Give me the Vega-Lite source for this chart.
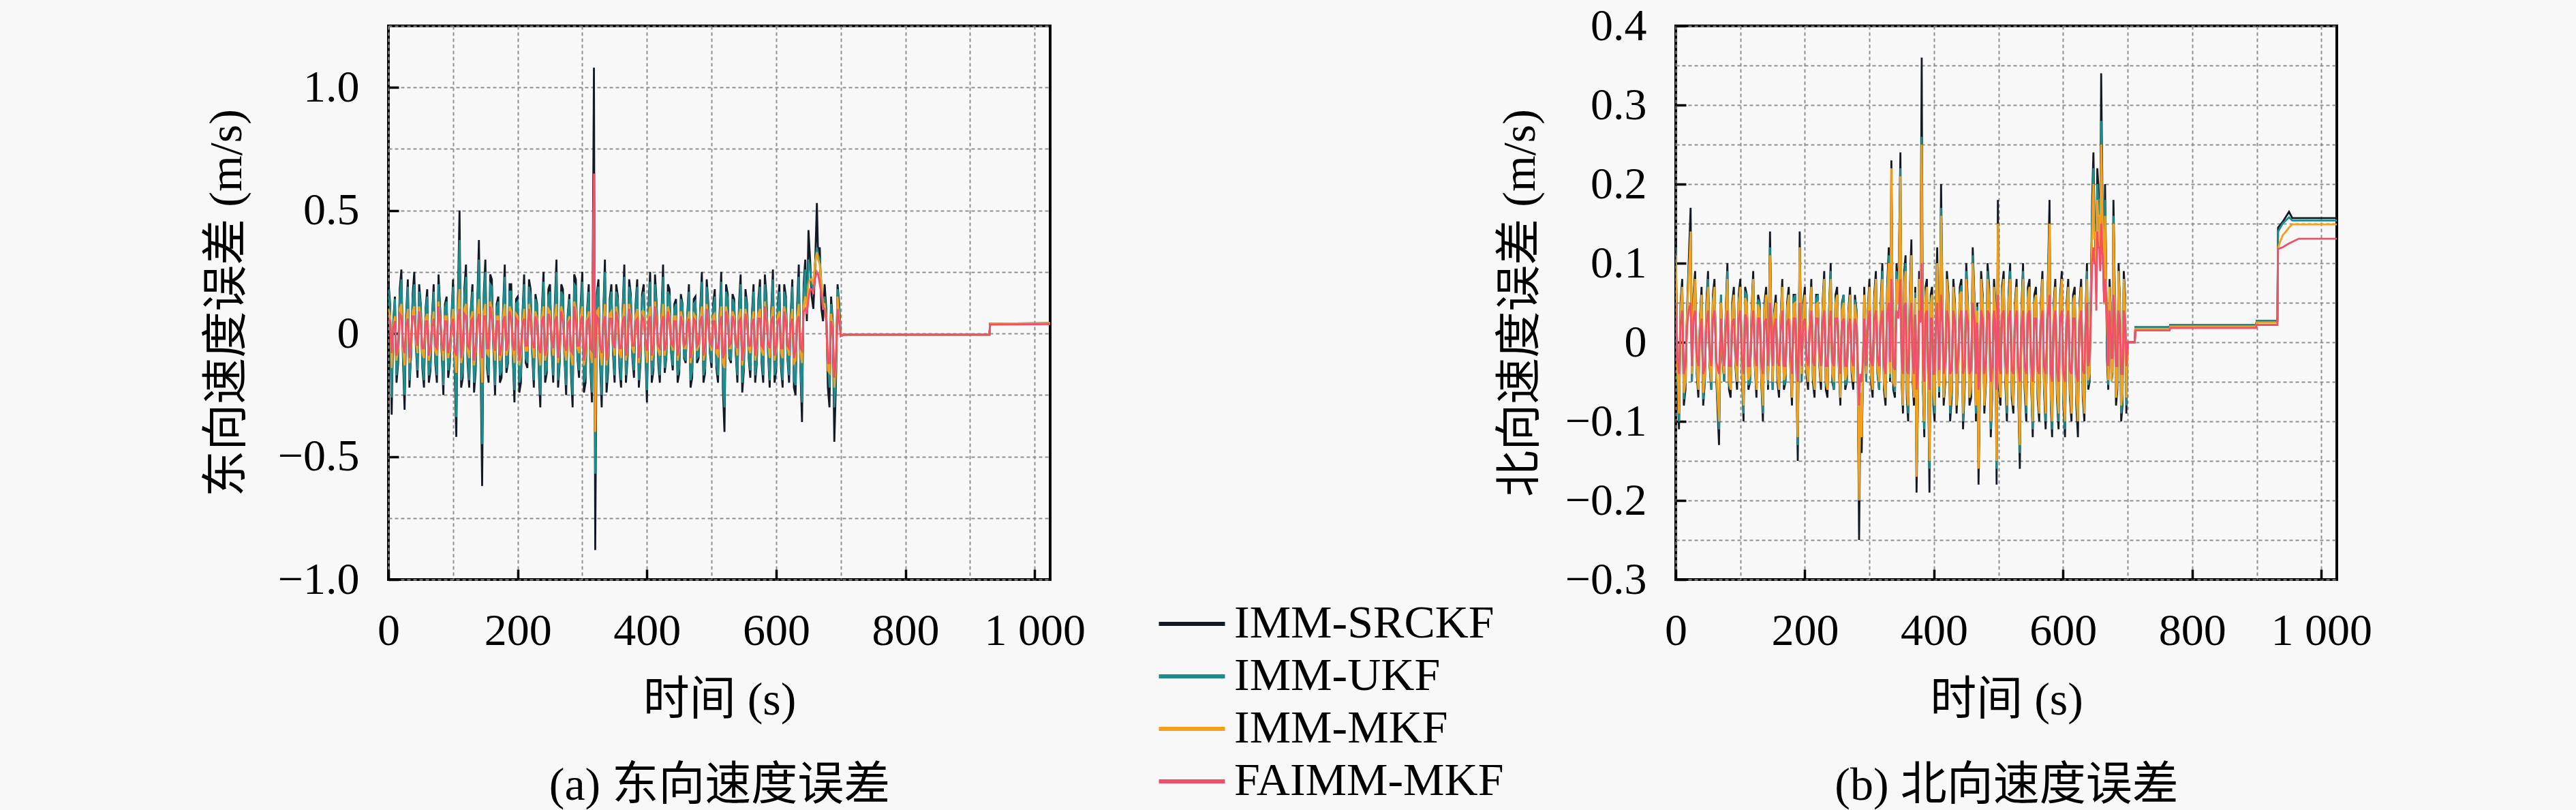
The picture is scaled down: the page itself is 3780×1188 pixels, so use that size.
{
  "$schema": "https://vega.github.io/schema/vega-lite/v6.json",
  "background": "#f8f8f8",
  "padding": {"left": 297, "top": 3, "right": 297, "bottom": 0},
  "config": {
    "font": "Liberation Serif, Noto Sans CJK SC",
    "view": {"stroke": "black", "strokeWidth": 4},
    "axis": {
      "domain": false,
      "grid": true,
      "gridColor": "#8f8f8f",
      "gridDash": [5, 4],
      "gridWidth": 2,
      "tickColor": "black",
      "tickWidth": 3.5,
      "tickSize": -15,
      "labelPadding": 58,
      "labelFont": "Liberation Serif",
      "labelFontSize": 66,
      "labelColor": "black",
      "labelFlush": false,
      "labelOverlap": false,
      "labelBound": false,
      "titleFont": "Liberation Serif, Noto Sans CJK SC",
      "titleFontSize": 68,
      "titleFontWeight": "normal",
      "titleColor": "black",
      "titlePadding": 35
    }
  },
  "datasets": {
    "east": [
      {"t":0,"a":0.21,"b":0.18,"c":0.1,"d":0.06},
      {"t":5,"a":-0.33,"b":-0.26,"c":-0.14,"d":-0.08},
      {"t":10,"a":0.15,"b":0.14,"c":0.07,"d":0.05},
      {"t":15,"a":-0.12,"b":-0.1,"c":-0.06,"d":-0.04},
      {"t":20,"a":0.26,"b":0.22,"c":0.12,"d":0.07},
      {"t":25,"a":-0.31,"b":-0.25,"c":-0.13,"d":-0.08},
      {"t":30,"a":0.22,"b":0.19,"c":0.1,"d":0.06},
      {"t":35,"a":-0.08,"b":-0.09,"c":-0.05,"d":-0.03},
      {"t":40,"a":0.25,"b":0.2,"c":0.11,"d":0.07},
      {"t":45,"a":-0.18,"b":-0.15,"c":-0.08,"d":-0.05},
      {"t":50,"a":0.12,"b":0.11,"c":0.06,"d":0.04},
      {"t":55,"a":-0.22,"b":-0.19,"c":-0.1,"d":-0.06},
      {"t":60,"a":0.18,"b":0.15,"c":0.08,"d":0.05},
      {"t":65,"a":-0.15,"b":-0.13,"c":-0.07,"d":-0.05},
      {"t":70,"a":0.2,"b":0.17,"c":0.09,"d":0.06},
      {"t":75,"a":-0.2,"b":-0.17,"c":-0.09,"d":-0.06},
      {"t":80,"a":0.1,"b":0.1,"c":0.05,"d":0.04},
      {"t":85,"a":-0.25,"b":-0.21,"c":-0.11,"d":-0.07},
      {"t":90,"a":0.15,"b":0.13,"c":0.07,"d":0.05},
      {"t":95,"a":-0.12,"b":-0.11,"c":-0.06,"d":-0.04},
      {"t":100,"a":0.22,"b":0.19,"c":0.1,"d":0.06},
      {"t":105,"a":-0.42,"b":-0.34,"c":-0.16,"d":-0.09},
      {"t":110,"a":0.5,"b":0.38,"c":0.18,"d":0.1},
      {"t":115,"a":-0.18,"b":-0.15,"c":-0.08,"d":-0.05},
      {"t":120,"a":0.28,"b":0.23,"c":0.12,"d":0.07},
      {"t":125,"a":-0.22,"b":-0.19,"c":-0.1,"d":-0.06},
      {"t":130,"a":0.2,"b":0.17,"c":0.09,"d":0.06},
      {"t":135,"a":-0.15,"b":-0.13,"c":-0.07,"d":-0.05},
      {"t":140,"a":0.38,"b":0.3,"c":0.14,"d":0.08},
      {"t":145,"a":-0.62,"b":-0.45,"c":-0.2,"d":-0.1},
      {"t":150,"a":0.3,"b":0.25,"c":0.12,"d":0.07},
      {"t":155,"a":-0.2,"b":-0.17,"c":-0.09,"d":-0.06},
      {"t":160,"a":0.22,"b":0.19,"c":0.1,"d":0.06},
      {"t":165,"a":-0.25,"b":-0.21,"c":-0.11,"d":-0.07},
      {"t":170,"a":0.15,"b":0.13,"c":0.07,"d":0.05},
      {"t":175,"a":-0.18,"b":-0.15,"c":-0.08,"d":-0.05},
      {"t":180,"a":0.28,"b":0.23,"c":0.12,"d":0.07},
      {"t":185,"a":-0.12,"b":-0.11,"c":-0.06,"d":-0.04},
      {"t":190,"a":0.2,"b":0.17,"c":0.09,"d":0.06},
      {"t":195,"a":-0.28,"b":-0.23,"c":-0.12,"d":-0.07},
      {"t":200,"a":0.15,"b":0.13,"c":0.07,"d":0.05},
      {"t":205,"a":-0.2,"b":-0.17,"c":-0.09,"d":-0.06},
      {"t":210,"a":0.24,"b":0.2,"c":0.1,"d":0.06},
      {"t":215,"a":-0.14,"b":-0.12,"c":-0.07,"d":-0.05},
      {"t":220,"a":0.18,"b":0.15,"c":0.08,"d":0.05},
      {"t":225,"a":-0.22,"b":-0.19,"c":-0.1,"d":-0.06},
      {"t":230,"a":0.12,"b":0.11,"c":0.06,"d":0.04},
      {"t":235,"a":-0.3,"b":-0.25,"c":-0.13,"d":-0.08},
      {"t":240,"a":0.25,"b":0.21,"c":0.11,"d":0.07},
      {"t":245,"a":-0.16,"b":-0.14,"c":-0.07,"d":-0.05},
      {"t":250,"a":0.2,"b":0.17,"c":0.09,"d":0.06},
      {"t":255,"a":-0.2,"b":-0.17,"c":-0.09,"d":-0.06},
      {"t":260,"a":0.3,"b":0.25,"c":0.12,"d":0.07},
      {"t":265,"a":-0.12,"b":-0.11,"c":-0.06,"d":-0.04},
      {"t":270,"a":0.18,"b":0.15,"c":0.08,"d":0.05},
      {"t":275,"a":-0.25,"b":-0.21,"c":-0.11,"d":-0.07},
      {"t":280,"a":0.16,"b":0.14,"c":0.07,"d":0.05},
      {"t":285,"a":-0.3,"b":-0.25,"c":-0.13,"d":-0.08},
      {"t":290,"a":0.22,"b":0.19,"c":0.1,"d":0.06},
      {"t":295,"a":-0.18,"b":-0.15,"c":-0.08,"d":-0.05},
      {"t":300,"a":0.25,"b":0.21,"c":0.11,"d":0.07},
      {"t":305,"a":-0.2,"b":-0.17,"c":-0.09,"d":-0.06},
      {"t":310,"a":0.2,"b":0.17,"c":0.09,"d":0.06},
      {"t":315,"a":-0.28,"b":-0.24,"c":-0.12,"d":-0.07},
      {"t":318,"a":1.08,"b":0.62,"c":0.55,"d":0.65},
      {"t":320,"a":-0.88,"b":-0.57,"c":-0.4,"d":-0.1},
      {"t":325,"a":0.22,"b":0.19,"c":0.1,"d":0.06},
      {"t":330,"a":-0.3,"b":-0.25,"c":-0.13,"d":-0.08},
      {"t":335,"a":0.3,"b":0.25,"c":0.12,"d":0.07},
      {"t":340,"a":-0.15,"b":-0.13,"c":-0.07,"d":-0.05},
      {"t":345,"a":0.2,"b":0.17,"c":0.09,"d":0.06},
      {"t":350,"a":-0.2,"b":-0.17,"c":-0.09,"d":-0.06},
      {"t":355,"a":0.15,"b":0.13,"c":0.07,"d":0.05},
      {"t":360,"a":-0.22,"b":-0.19,"c":-0.1,"d":-0.06},
      {"t":365,"a":0.28,"b":0.23,"c":0.12,"d":0.07},
      {"t":370,"a":-0.1,"b":-0.09,"c":-0.05,"d":-0.04},
      {"t":375,"a":0.16,"b":0.14,"c":0.07,"d":0.05},
      {"t":380,"a":-0.18,"b":-0.15,"c":-0.08,"d":-0.05},
      {"t":385,"a":0.22,"b":0.19,"c":0.1,"d":0.06},
      {"t":390,"a":-0.12,"b":-0.11,"c":-0.06,"d":-0.04},
      {"t":395,"a":0.2,"b":0.17,"c":0.09,"d":0.06},
      {"t":400,"a":-0.28,"b":-0.23,"c":-0.12,"d":-0.07},
      {"t":405,"a":0.25,"b":0.21,"c":0.11,"d":0.07},
      {"t":410,"a":-0.15,"b":-0.13,"c":-0.07,"d":-0.05},
      {"t":415,"a":0.12,"b":0.11,"c":0.06,"d":0.04},
      {"t":420,"a":-0.2,"b":-0.17,"c":-0.09,"d":-0.06},
      {"t":425,"a":0.28,"b":0.23,"c":0.12,"d":0.07},
      {"t":430,"a":-0.1,"b":-0.09,"c":-0.05,"d":-0.04},
      {"t":435,"a":0.18,"b":0.15,"c":0.08,"d":0.05},
      {"t":440,"a":-0.15,"b":-0.13,"c":-0.07,"d":-0.05},
      {"t":445,"a":0.14,"b":0.12,"c":0.07,"d":0.05},
      {"t":450,"a":-0.16,"b":-0.14,"c":-0.07,"d":-0.05},
      {"t":455,"a":0.12,"b":0.11,"c":0.06,"d":0.04},
      {"t":460,"a":-0.12,"b":-0.11,"c":-0.06,"d":-0.04},
      {"t":465,"a":0.2,"b":0.17,"c":0.09,"d":0.06},
      {"t":470,"a":-0.18,"b":-0.15,"c":-0.08,"d":-0.05},
      {"t":475,"a":0.15,"b":0.13,"c":0.07,"d":0.05},
      {"t":480,"a":-0.1,"b":-0.09,"c":-0.05,"d":-0.04},
      {"t":485,"a":0.25,"b":0.21,"c":0.11,"d":0.07},
      {"t":490,"a":-0.16,"b":-0.14,"c":-0.07,"d":-0.05},
      {"t":495,"a":0.12,"b":0.11,"c":0.06,"d":0.04},
      {"t":500,"a":-0.14,"b":-0.12,"c":-0.07,"d":-0.05},
      {"t":505,"a":0.18,"b":0.15,"c":0.08,"d":0.05},
      {"t":510,"a":-0.2,"b":-0.17,"c":-0.09,"d":-0.06},
      {"t":515,"a":0.25,"b":0.21,"c":0.11,"d":0.07},
      {"t":520,"a":-0.4,"b":-0.3,"c":-0.14,"d":-0.08},
      {"t":525,"a":0.16,"b":0.14,"c":0.07,"d":0.05},
      {"t":530,"a":-0.12,"b":-0.11,"c":-0.06,"d":-0.04},
      {"t":535,"a":0.14,"b":0.12,"c":0.07,"d":0.05},
      {"t":540,"a":-0.2,"b":-0.17,"c":-0.09,"d":-0.06},
      {"t":545,"a":0.24,"b":0.2,"c":0.1,"d":0.06},
      {"t":550,"a":-0.15,"b":-0.13,"c":-0.07,"d":-0.05},
      {"t":555,"a":0.12,"b":0.11,"c":0.06,"d":0.04},
      {"t":560,"a":-0.18,"b":-0.15,"c":-0.08,"d":-0.05},
      {"t":565,"a":0.2,"b":0.17,"c":0.09,"d":0.06},
      {"t":570,"a":-0.12,"b":-0.11,"c":-0.06,"d":-0.04},
      {"t":575,"a":0.22,"b":0.19,"c":0.1,"d":0.06},
      {"t":580,"a":-0.2,"b":-0.17,"c":-0.09,"d":-0.06},
      {"t":585,"a":0.15,"b":0.13,"c":0.07,"d":0.05},
      {"t":590,"a":-0.22,"b":-0.19,"c":-0.1,"d":-0.06},
      {"t":595,"a":0.26,"b":0.22,"c":0.11,"d":0.07},
      {"t":600,"a":-0.15,"b":-0.13,"c":-0.07,"d":-0.05},
      {"t":605,"a":0.2,"b":0.17,"c":0.09,"d":0.06},
      {"t":610,"a":-0.22,"b":-0.19,"c":-0.1,"d":-0.06},
      {"t":615,"a":0.15,"b":0.13,"c":0.07,"d":0.05},
      {"t":620,"a":-0.2,"b":-0.17,"c":-0.09,"d":-0.06},
      {"t":625,"a":0.22,"b":0.19,"c":0.1,"d":0.06},
      {"t":630,"a":-0.25,"b":-0.21,"c":-0.11,"d":-0.07},
      {"t":635,"a":0.28,"b":0.23,"c":0.12,"d":0.07},
      {"t":640,"a":-0.36,"b":-0.28,"c":-0.12,"d":-0.07},
      {"t":645,"a":0.3,"b":0.26,"c":0.15,"d":0.1},
      {"t":650,"a":0.42,"b":0.3,"c":0.2,"d":0.14},
      {"t":655,"a":0.15,"b":0.2,"c":0.22,"d":0.18},
      {"t":660,"a":0.25,"b":0.28,"c":0.28,"d":0.22},
      {"t":663,"a":0.53,"b":0.35,"c":0.33,"d":0.25},
      {"t":665,"a":0.3,"b":0.32,"c":0.3,"d":0.24},
      {"t":670,"a":0.1,"b":0.2,"c":0.2,"d":0.16},
      {"t":675,"a":0.2,"b":0.15,"c":0.12,"d":0.1},
      {"t":680,"a":-0.22,"b":-0.12,"c":-0.15,"d":-0.12},
      {"t":685,"a":0.15,"b":0.12,"c":0.08,"d":0.05},
      {"t":690,"a":-0.44,"b":-0.3,"c":-0.22,"d":-0.18},
      {"t":695,"a":0.2,"b":0.18,"c":0.15,"d":0.1},
      {"t":700,"a":-0.01,"b":-0.01,"c":-0.01,"d":-0.01},
      {"t":705,"a":-0.005,"b":-0.005,"c":-0.005,"d":-0.005},
      {"t":930,"a":-0.005,"b":-0.005,"c":-0.005,"d":-0.005},
      {"t":931,"a":0.04,"b":0.04,"c":0.04,"d":0.036},
      {"t":1024,"a":0.042,"b":0.042,"c":0.042,"d":0.038},
      {"t":2.5,"a":0.12,"b":0.1,"c":0.07,"d":0.05},
      {"t":7.5,"a":0.05,"b":0.04,"c":0.03,"d":0.02},
      {"t":12.5,"a":-0.2,"b":-0.17,"c":-0.11,"d":-0.09},
      {"t":17.5,"a":0.18,"b":0.15,"c":0.1,"d":0.08},
      {"t":22.5,"a":-0.1,"b":-0.09,"c":-0.06,"d":-0.05},
      {"t":27.5,"a":0.08,"b":0.07,"c":0.04,"d":0.04},
      {"t":32.5,"a":-0.22,"b":-0.19,"c":-0.12,"d":-0.1},
      {"t":37.5,"a":0.16,"b":0.14,"c":0.09,"d":0.07},
      {"t":42.5,"a":-0.05,"b":-0.04,"c":-0.03,"d":-0.02},
      {"t":47.5,"a":0.2,"b":0.17,"c":0.11,"d":0.09},
      {"t":52.5,"a":-0.14,"b":-0.12,"c":-0.08,"d":-0.06},
      {"t":57.5,"a":0.1,"b":0.09,"c":0.06,"d":0.05},
      {"t":62.5,"a":-0.2,"b":-0.17,"c":-0.11,"d":-0.09},
      {"t":67.5,"a":0.07,"b":0.06,"c":0.04,"d":0.03},
      {"t":72.5,"a":-0.12,"b":-0.1,"c":-0.07,"d":-0.05},
      {"t":77.5,"a":0.24,"b":0.2,"c":0.13,"d":0.11},
      {"t":82.5,"a":-0.08,"b":-0.07,"c":-0.04,"d":-0.04},
      {"t":87.5,"a":0.12,"b":0.1,"c":0.07,"d":0.05},
      {"t":92.5,"a":-0.18,"b":-0.15,"c":-0.1,"d":-0.08},
      {"t":97.5,"a":0.06,"b":0.05,"c":0.03,"d":0.03},
      {"t":102.5,"a":-0.15,"b":-0.13,"c":-0.08,"d":-0.07},
      {"t":107.5,"a":0.14,"b":0.12,"c":0.08,"d":0.06},
      {"t":112.5,"a":-0.22,"b":-0.19,"c":-0.12,"d":-0.1},
      {"t":117.5,"a":0.18,"b":0.15,"c":0.1,"d":0.08},
      {"t":122.5,"a":-0.12,"b":-0.1,"c":-0.07,"d":-0.05},
      {"t":127.5,"a":0.1,"b":0.09,"c":0.06,"d":0.05},
      {"t":132.5,"a":-0.24,"b":-0.2,"c":-0.13,"d":-0.11},
      {"t":137.5,"a":0.12,"b":0.1,"c":0.07,"d":0.05},
      {"t":142.5,"a":-0.1,"b":-0.09,"c":-0.06,"d":-0.05},
      {"t":147.5,"a":0.16,"b":0.14,"c":0.09,"d":0.07},
      {"t":152.5,"a":-0.14,"b":-0.12,"c":-0.08,"d":-0.06},
      {"t":157.5,"a":0.24,"b":0.2,"c":0.13,"d":0.11},
      {"t":162.5,"a":-0.06,"b":-0.05,"c":-0.03,"d":-0.03},
      {"t":167.5,"a":0.12,"b":0.1,"c":0.07,"d":0.05},
      {"t":172.5,"a":-0.2,"b":-0.17,"c":-0.11,"d":-0.09},
      {"t":177.5,"a":0.1,"b":0.09,"c":0.06,"d":0.05},
      {"t":182.5,"a":-0.16,"b":-0.14,"c":-0.09,"d":-0.07},
      {"t":187.5,"a":0.2,"b":0.17,"c":0.11,"d":0.09},
      {"t":192.5,"a":-0.1,"b":-0.09,"c":-0.06,"d":-0.05},
      {"t":197.5,"a":0.14,"b":0.12,"c":0.08,"d":0.06},
      {"t":202.5,"a":-0.24,"b":-0.2,"c":-0.13,"d":-0.11},
      {"t":207.5,"a":0.08,"b":0.07,"c":0.04,"d":0.04},
      {"t":212.5,"a":-0.12,"b":-0.1,"c":-0.07,"d":-0.05},
      {"t":217.5,"a":0.22,"b":0.19,"c":0.12,"d":0.1},
      {"t":222.5,"a":-0.08,"b":-0.07,"c":-0.04,"d":-0.04},
      {"t":227.5,"a":0.16,"b":0.14,"c":0.09,"d":0.07},
      {"t":232.5,"a":-0.14,"b":-0.12,"c":-0.08,"d":-0.06},
      {"t":237.5,"a":0.1,"b":0.09,"c":0.06,"d":0.05},
      {"t":242.5,"a":-0.2,"b":-0.17,"c":-0.11,"d":-0.09},
      {"t":247.5,"a":0.18,"b":0.15,"c":0.1,"d":0.08},
      {"t":252.5,"a":-0.06,"b":-0.05,"c":-0.03,"d":-0.03},
      {"t":257.5,"a":0.12,"b":0.1,"c":0.07,"d":0.05},
      {"t":262.5,"a":-0.22,"b":-0.19,"c":-0.12,"d":-0.1},
      {"t":267.5,"a":0.2,"b":0.17,"c":0.11,"d":0.09},
      {"t":272.5,"a":-0.1,"b":-0.09,"c":-0.06,"d":-0.05},
      {"t":277.5,"a":0.08,"b":0.07,"c":0.04,"d":0.04},
      {"t":282.5,"a":-0.16,"b":-0.14,"c":-0.09,"d":-0.07},
      {"t":287.5,"a":0.24,"b":0.2,"c":0.13,"d":0.11},
      {"t":292.5,"a":-0.1,"b":-0.09,"c":-0.06,"d":-0.05},
      {"t":297.5,"a":0.12,"b":0.1,"c":0.07,"d":0.05},
      {"t":302.5,"a":-0.24,"b":-0.2,"c":-0.13,"d":-0.11},
      {"t":307.5,"a":0.1,"b":0.09,"c":0.06,"d":0.05},
      {"t":312.5,"a":-0.14,"b":-0.12,"c":-0.08,"d":-0.06},
      {"t":322.5,"a":0.16,"b":0.14,"c":0.09,"d":0.07},
      {"t":327.5,"a":-0.12,"b":-0.1,"c":-0.07,"d":-0.05},
      {"t":332.5,"a":0.08,"b":0.07,"c":0.04,"d":0.04},
      {"t":337.5,"a":-0.24,"b":-0.2,"c":-0.13,"d":-0.11},
      {"t":342.5,"a":0.14,"b":0.12,"c":0.08,"d":0.06},
      {"t":347.5,"a":-0.08,"b":-0.07,"c":-0.04,"d":-0.04},
      {"t":352.5,"a":0.2,"b":0.17,"c":0.11,"d":0.09},
      {"t":357.5,"a":-0.14,"b":-0.12,"c":-0.08,"d":-0.06},
      {"t":362.5,"a":0.1,"b":0.09,"c":0.06,"d":0.05},
      {"t":367.5,"a":-0.2,"b":-0.17,"c":-0.11,"d":-0.09},
      {"t":372.5,"a":0.22,"b":0.19,"c":0.12,"d":0.1},
      {"t":377.5,"a":-0.1,"b":-0.09,"c":-0.06,"d":-0.05},
      {"t":382.5,"a":0.12,"b":0.1,"c":0.07,"d":0.05},
      {"t":387.5,"a":-0.22,"b":-0.19,"c":-0.12,"d":-0.1},
      {"t":392.5,"a":0.16,"b":0.14,"c":0.09,"d":0.07},
      {"t":397.5,"a":-0.06,"b":-0.05,"c":-0.03,"d":-0.03},
      {"t":402.5,"a":0.12,"b":0.1,"c":0.07,"d":0.05},
      {"t":407.5,"a":-0.2,"b":-0.17,"c":-0.11,"d":-0.09},
      {"t":412.5,"a":0.24,"b":0.2,"c":0.13,"d":0.11},
      {"t":417.5,"a":-0.12,"b":-0.1,"c":-0.07,"d":-0.05},
      {"t":422.5,"a":0.08,"b":0.07,"c":0.04,"d":0.04},
      {"t":427.5,"a":-0.16,"b":-0.14,"c":-0.09,"d":-0.07},
      {"t":432.5,"a":0.2,"b":0.17,"c":0.11,"d":0.09},
      {"t":437.5,"a":-0.08,"b":-0.07,"c":-0.04,"d":-0.04},
      {"t":442.5,"a":0.12,"b":0.1,"c":0.07,"d":0.05},
      {"t":447.5,"a":-0.2,"b":-0.17,"c":-0.11,"d":-0.09},
      {"t":452.5,"a":0.16,"b":0.14,"c":0.09,"d":0.07},
      {"t":457.5,"a":-0.1,"b":-0.09,"c":-0.06,"d":-0.05},
      {"t":462.5,"a":0.08,"b":0.07,"c":0.04,"d":0.04},
      {"t":467.5,"a":-0.22,"b":-0.19,"c":-0.12,"d":-0.1},
      {"t":472.5,"a":0.14,"b":0.12,"c":0.08,"d":0.06},
      {"t":477.5,"a":-0.12,"b":-0.1,"c":-0.07,"d":-0.05},
      {"t":482.5,"a":0.1,"b":0.09,"c":0.06,"d":0.05},
      {"t":487.5,"a":-0.2,"b":-0.17,"c":-0.11,"d":-0.09},
      {"t":492.5,"a":0.22,"b":0.19,"c":0.12,"d":0.1},
      {"t":497.5,"a":-0.08,"b":-0.07,"c":-0.04,"d":-0.04},
      {"t":502.5,"a":0.12,"b":0.1,"c":0.07,"d":0.05},
      {"t":507.5,"a":-0.14,"b":-0.12,"c":-0.08,"d":-0.06},
      {"t":512.5,"a":0.08,"b":0.07,"c":0.04,"d":0.04},
      {"t":517.5,"a":-0.22,"b":-0.19,"c":-0.12,"d":-0.1},
      {"t":522.5,"a":0.2,"b":0.17,"c":0.11,"d":0.09},
      {"t":527.5,"a":-0.1,"b":-0.09,"c":-0.06,"d":-0.05},
      {"t":532.5,"a":0.16,"b":0.14,"c":0.09,"d":0.07},
      {"t":537.5,"a":-0.08,"b":-0.07,"c":-0.04,"d":-0.04},
      {"t":542.5,"a":0.12,"b":0.1,"c":0.07,"d":0.05},
      {"t":547.5,"a":-0.24,"b":-0.2,"c":-0.13,"d":-0.11},
      {"t":552.5,"a":0.18,"b":0.15,"c":0.1,"d":0.08},
      {"t":557.5,"a":-0.1,"b":-0.09,"c":-0.06,"d":-0.05},
      {"t":562.5,"a":0.08,"b":0.07,"c":0.04,"d":0.04},
      {"t":567.5,"a":-0.2,"b":-0.17,"c":-0.11,"d":-0.09},
      {"t":572.5,"a":0.14,"b":0.12,"c":0.08,"d":0.06},
      {"t":577.5,"a":-0.12,"b":-0.1,"c":-0.07,"d":-0.05},
      {"t":582.5,"a":0.24,"b":0.2,"c":0.13,"d":0.11},
      {"t":587.5,"a":-0.08,"b":-0.07,"c":-0.04,"d":-0.04},
      {"t":592.5,"a":0.1,"b":0.09,"c":0.06,"d":0.05},
      {"t":597.5,"a":-0.2,"b":-0.17,"c":-0.11,"d":-0.09},
      {"t":602.5,"a":0.12,"b":0.1,"c":0.07,"d":0.05},
      {"t":607.5,"a":-0.14,"b":-0.12,"c":-0.08,"d":-0.06},
      {"t":612.5,"a":0.2,"b":0.17,"c":0.11,"d":0.09},
      {"t":617.5,"a":-0.1,"b":-0.09,"c":-0.06,"d":-0.05},
      {"t":622.5,"a":0.08,"b":0.07,"c":0.04,"d":0.04},
      {"t":627.5,"a":-0.22,"b":-0.19,"c":-0.12,"d":-0.1},
      {"t":632.5,"a":0.12,"b":0.1,"c":0.07,"d":0.05},
      {"t":637.5,"a":-0.14,"b":-0.12,"c":-0.08,"d":-0.06},
      {"t":642.5,"a":0.2,"b":0.17,"c":0.11,"d":0.09},
      {"t":647.5,"a":0.05,"b":0.08,"c":0.1,"d":0.08},
      {"t":652.5,"a":0.3,"b":0.26,"c":0.22,"d":0.18},
      {"t":657.5,"a":0.1,"b":0.16,"c":0.2,"d":0.16},
      {"t":667.5,"a":0.35,"b":0.3,"c":0.28,"d":0.2},
      {"t":672.5,"a":0.05,"b":0.1,"c":0.12,"d":0.1},
      {"t":677.5,"a":0.1,"b":0.08,"c":0.06,"d":0.05},
      {"t":682.5,"a":-0.3,"b":-0.22,"c":-0.16,"d":-0.12},
      {"t":687.5,"a":0.05,"b":0.04,"c":0.03,"d":0.02},
      {"t":692.5,"a":-0.2,"b":-0.17,"c":-0.12,"d":-0.1},
      {"t":697.5,"a":0.12,"b":0.1,"c":0.07,"d":0.05}
    ],
    "north": [
      {"t":0,"a":0.13,"b":0.12,"c":0.11,"d":0.05},
      {"t":5,"a":-0.11,"b":-0.1,"c":-0.09,"d":-0.04},
      {"t":10,"a":0.08,"b":0.07,"c":0.07,"d":0.04},
      {"t":15,"a":-0.06,"b":-0.05,"c":-0.05,"d":-0.03},
      {"t":20,"a":0.1,"b":0.09,"c":0.08,"d":0.04},
      {"t":23,"a":0.17,"b":0.12,"c":0.14,"d":0.05},
      {"t":25,"a":-0.05,"b":-0.05,"c":-0.04,"d":-0.03},
      {"t":30,"a":0.09,"b":0.08,"c":0.08,"d":0.04},
      {"t":35,"a":-0.07,"b":-0.06,"c":-0.06,"d":-0.03},
      {"t":40,"a":0.07,"b":0.06,"c":0.06,"d":0.03},
      {"t":45,"a":-0.05,"b":-0.05,"c":-0.04,"d":-0.03},
      {"t":50,"a":0.09,"b":0.08,"c":0.07,"d":0.04},
      {"t":55,"a":-0.06,"b":-0.06,"c":-0.05,"d":-0.03},
      {"t":60,"a":0.08,"b":0.07,"c":0.07,"d":0.04},
      {"t":67,"a":-0.13,"b":-0.11,"c":-0.1,"d":-0.04},
      {"t":70,"a":0.06,"b":0.06,"c":0.05,"d":0.03},
      {"t":75,"a":-0.05,"b":-0.05,"c":-0.04,"d":-0.03},
      {"t":80,"a":0.1,"b":0.09,"c":0.08,"d":0.04},
      {"t":85,"a":-0.07,"b":-0.06,"c":-0.06,"d":-0.03},
      {"t":90,"a":0.07,"b":0.06,"c":0.06,"d":0.03},
      {"t":95,"a":-0.06,"b":-0.05,"c":-0.05,"d":-0.03},
      {"t":100,"a":0.08,"b":0.07,"c":0.07,"d":0.04},
      {"t":105,"a":-0.1,"b":-0.09,"c":-0.08,"d":-0.04},
      {"t":110,"a":0.06,"b":0.06,"c":0.05,"d":0.03},
      {"t":115,"a":-0.05,"b":-0.05,"c":-0.04,"d":-0.03},
      {"t":120,"a":0.09,"b":0.08,"c":0.08,"d":0.04},
      {"t":125,"a":-0.07,"b":-0.06,"c":-0.06,"d":-0.03},
      {"t":130,"a":0.05,"b":0.05,"c":0.04,"d":0.03},
      {"t":135,"a":-0.1,"b":-0.09,"c":-0.08,"d":-0.04},
      {"t":140,"a":0.07,"b":0.06,"c":0.06,"d":0.03},
      {"t":146,"a":0.14,"b":0.12,"c":0.11,"d":0.05},
      {"t":150,"a":-0.06,"b":-0.06,"c":-0.05,"d":-0.03},
      {"t":155,"a":0.06,"b":0.05,"c":0.05,"d":0.03},
      {"t":160,"a":-0.07,"b":-0.06,"c":-0.06,"d":-0.03},
      {"t":165,"a":0.08,"b":0.07,"c":0.07,"d":0.04},
      {"t":170,"a":-0.05,"b":-0.05,"c":-0.04,"d":-0.03},
      {"t":175,"a":0.07,"b":0.06,"c":0.06,"d":0.03},
      {"t":180,"a":-0.08,"b":-0.07,"c":-0.07,"d":-0.04},
      {"t":185,"a":0.06,"b":0.06,"c":0.05,"d":0.03},
      {"t":189,"a":-0.15,"b":-0.13,"c":-0.12,"d":-0.05},
      {"t":192,"a":0.14,"b":0.12,"c":0.12,"d":0.05},
      {"t":195,"a":-0.05,"b":-0.05,"c":-0.04,"d":-0.03},
      {"t":200,"a":0.07,"b":0.06,"c":0.06,"d":0.03},
      {"t":205,"a":-0.06,"b":-0.05,"c":-0.05,"d":-0.03},
      {"t":210,"a":0.08,"b":0.07,"c":0.07,"d":0.04},
      {"t":215,"a":-0.07,"b":-0.06,"c":-0.06,"d":-0.03},
      {"t":220,"a":0.06,"b":0.06,"c":0.05,"d":0.03},
      {"t":225,"a":-0.06,"b":-0.05,"c":-0.05,"d":-0.03},
      {"t":230,"a":0.09,"b":0.08,"c":0.08,"d":0.04},
      {"t":235,"a":-0.07,"b":-0.06,"c":-0.06,"d":-0.03},
      {"t":240,"a":0.1,"b":0.09,"c":0.08,"d":0.04},
      {"t":245,"a":-0.06,"b":-0.06,"c":-0.05,"d":-0.03},
      {"t":250,"a":0.07,"b":0.06,"c":0.06,"d":0.03},
      {"t":255,"a":-0.08,"b":-0.07,"c":-0.07,"d":-0.04},
      {"t":260,"a":0.06,"b":0.06,"c":0.05,"d":0.03},
      {"t":265,"a":-0.05,"b":-0.05,"c":-0.04,"d":-0.03},
      {"t":270,"a":0.07,"b":0.06,"c":0.06,"d":0.03},
      {"t":275,"a":-0.06,"b":-0.05,"c":-0.05,"d":-0.03},
      {"t":280,"a":0.04,"b":0.04,"c":0.03,"d":0.02},
      {"t":284,"a":-0.25,"b":-0.2,"c":-0.2,"d":-0.08},
      {"t":288,"a":-0.14,"b":-0.12,"c":-0.12,"d":-0.05},
      {"t":292,"a":0.07,"b":0.06,"c":0.06,"d":0.03},
      {"t":295,"a":-0.05,"b":-0.05,"c":-0.04,"d":-0.03},
      {"t":300,"a":0.08,"b":0.07,"c":0.07,"d":0.04},
      {"t":305,"a":-0.07,"b":-0.06,"c":-0.06,"d":-0.03},
      {"t":310,"a":0.09,"b":0.08,"c":0.08,"d":0.04},
      {"t":315,"a":-0.06,"b":-0.06,"c":-0.05,"d":-0.03},
      {"t":320,"a":0.1,"b":0.09,"c":0.08,"d":0.04},
      {"t":325,"a":-0.08,"b":-0.07,"c":-0.07,"d":-0.04},
      {"t":330,"a":0.12,"b":0.11,"c":0.1,"d":0.05},
      {"t":334,"a":0.23,"b":0.2,"c":0.22,"d":0.08},
      {"t":337,"a":-0.06,"b":-0.05,"c":-0.05,"d":-0.03},
      {"t":342,"a":0.1,"b":0.09,"c":0.08,"d":0.04},
      {"t":348,"a":0.24,"b":0.22,"c":0.21,"d":0.08},
      {"t":352,"a":-0.09,"b":-0.08,"c":-0.08,"d":-0.04},
      {"t":356,"a":0.11,"b":0.1,"c":0.09,"d":0.05},
      {"t":360,"a":-0.1,"b":-0.09,"c":-0.08,"d":-0.04},
      {"t":365,"a":0.13,"b":0.11,"c":0.11,"d":0.05},
      {"t":369,"a":-0.08,"b":-0.07,"c":-0.07,"d":-0.04},
      {"t":373,"a":-0.19,"b":-0.16,"c":-0.17,"d":-0.06},
      {"t":377,"a":0.09,"b":0.08,"c":0.08,"d":0.04},
      {"t":381,"a":0.36,"b":0.26,"c":0.25,"d":0.1},
      {"t":385,"a":-0.12,"b":-0.11,"c":-0.1,"d":-0.05},
      {"t":389,"a":0.08,"b":0.07,"c":0.07,"d":0.04},
      {"t":393,"a":-0.19,"b":-0.16,"c":-0.15,"d":-0.06},
      {"t":397,"a":0.07,"b":0.06,"c":0.06,"d":0.03},
      {"t":401,"a":-0.1,"b":-0.09,"c":-0.08,"d":-0.04},
      {"t":405,"a":0.12,"b":0.1,"c":0.1,"d":0.05},
      {"t":411,"a":0.2,"b":0.17,"c":0.16,"d":0.06},
      {"t":415,"a":-0.08,"b":-0.07,"c":-0.07,"d":-0.04},
      {"t":420,"a":0.09,"b":0.08,"c":0.08,"d":0.04},
      {"t":425,"a":-0.1,"b":-0.09,"c":-0.08,"d":-0.04},
      {"t":430,"a":0.08,"b":0.07,"c":0.07,"d":0.04},
      {"t":435,"a":-0.09,"b":-0.08,"c":-0.08,"d":-0.04},
      {"t":440,"a":0.07,"b":0.06,"c":0.06,"d":0.03},
      {"t":445,"a":-0.11,"b":-0.1,"c":-0.09,"d":-0.04},
      {"t":450,"a":0.1,"b":0.09,"c":0.08,"d":0.04},
      {"t":455,"a":-0.08,"b":-0.07,"c":-0.07,"d":-0.04},
      {"t":460,"a":0.12,"b":0.11,"c":0.1,"d":0.05},
      {"t":465,"a":-0.1,"b":-0.09,"c":-0.08,"d":-0.04},
      {"t":469,"a":-0.18,"b":-0.15,"c":-0.16,"d":-0.06},
      {"t":473,"a":0.09,"b":0.08,"c":0.08,"d":0.04},
      {"t":478,"a":-0.09,"b":-0.08,"c":-0.08,"d":-0.04},
      {"t":483,"a":0.1,"b":0.09,"c":0.08,"d":0.04},
      {"t":488,"a":-0.12,"b":-0.11,"c":-0.1,"d":-0.05},
      {"t":493,"a":0.08,"b":0.07,"c":0.07,"d":0.04},
      {"t":497,"a":-0.18,"b":-0.16,"c":-0.15,"d":-0.06},
      {"t":499,"a":0.18,"b":0.15,"c":0.15,"d":0.06},
      {"t":503,"a":-0.08,"b":-0.07,"c":-0.07,"d":-0.04},
      {"t":508,"a":0.09,"b":0.08,"c":0.08,"d":0.04},
      {"t":513,"a":-0.1,"b":-0.09,"c":-0.08,"d":-0.04},
      {"t":518,"a":0.1,"b":0.09,"c":0.08,"d":0.04},
      {"t":523,"a":-0.09,"b":-0.08,"c":-0.08,"d":-0.04},
      {"t":528,"a":0.08,"b":0.07,"c":0.07,"d":0.04},
      {"t":533,"a":-0.16,"b":-0.14,"c":-0.13,"d":-0.05},
      {"t":538,"a":0.1,"b":0.09,"c":0.08,"d":0.04},
      {"t":543,"a":-0.1,"b":-0.09,"c":-0.08,"d":-0.04},
      {"t":548,"a":0.08,"b":0.07,"c":0.07,"d":0.04},
      {"t":553,"a":-0.12,"b":-0.11,"c":-0.1,"d":-0.05},
      {"t":558,"a":0.07,"b":0.06,"c":0.06,"d":0.03},
      {"t":563,"a":-0.1,"b":-0.09,"c":-0.09,"d":-0.04},
      {"t":568,"a":0.09,"b":0.08,"c":0.08,"d":0.04},
      {"t":573,"a":-0.11,"b":-0.1,"c":-0.09,"d":-0.04},
      {"t":579,"a":0.18,"b":0.15,"c":0.15,"d":0.06},
      {"t":583,"a":-0.12,"b":-0.11,"c":-0.1,"d":-0.05},
      {"t":588,"a":0.08,"b":0.07,"c":0.07,"d":0.04},
      {"t":593,"a":-0.11,"b":-0.1,"c":-0.09,"d":-0.05},
      {"t":598,"a":0.09,"b":0.08,"c":0.08,"d":0.04},
      {"t":603,"a":-0.12,"b":-0.11,"c":-0.1,"d":-0.05},
      {"t":608,"a":0.08,"b":0.07,"c":0.07,"d":0.04},
      {"t":613,"a":-0.1,"b":-0.09,"c":-0.09,"d":-0.04},
      {"t":618,"a":0.07,"b":0.06,"c":0.06,"d":0.03},
      {"t":623,"a":-0.12,"b":-0.1,"c":-0.1,"d":-0.05},
      {"t":628,"a":0.08,"b":0.07,"c":0.07,"d":0.04},
      {"t":633,"a":-0.1,"b":-0.09,"c":-0.09,"d":-0.04},
      {"t":637,"a":0.1,"b":0.09,"c":0.08,"d":0.05},
      {"t":641,"a":-0.05,"b":-0.04,"c":-0.04,"d":-0.02},
      {"t":645,"a":0.18,"b":0.16,"c":0.14,"d":0.1},
      {"t":647,"a":0.24,"b":0.22,"c":0.2,"d":0.12},
      {"t":650,"a":0.12,"b":0.15,"c":0.14,"d":0.1},
      {"t":653,"a":0.22,"b":0.2,"c":0.18,"d":0.14},
      {"t":656,"a":0.16,"b":0.18,"c":0.16,"d":0.12},
      {"t":659,"a":0.34,"b":0.28,"c":0.25,"d":0.15},
      {"t":662,"a":0.1,"b":0.12,"c":0.13,"d":0.1},
      {"t":665,"a":0.2,"b":0.18,"c":0.16,"d":0.08},
      {"t":668,"a":-0.02,"b":0.0,"c":0.02,"d":0.03},
      {"t":672,"a":0.08,"b":0.07,"c":0.07,"d":0.04},
      {"t":675,"a":-0.05,"b":-0.04,"c":-0.05,"d":-0.02},
      {"t":678,"a":0.18,"b":0.16,"c":0.15,"d":0.06},
      {"t":682,"a":-0.08,"b":-0.07,"c":-0.07,"d":-0.03},
      {"t":686,"a":0.1,"b":0.09,"c":0.09,"d":0.04},
      {"t":690,"a":-0.1,"b":-0.09,"c":-0.08,"d":-0.04},
      {"t":694,"a":0.09,"b":0.08,"c":0.08,"d":0.04},
      {"t":698,"a":-0.09,"b":-0.08,"c":-0.07,"d":-0.03},
      {"t":700,"a":0.0,"b":0.0,"c":0.0,"d":0.0},
      {"t":711,"a":0.0,"b":0.0,"c":0.0,"d":0.0},
      {"t":712,"a":0.019,"b":0.019,"c":0.017,"d":0.015},
      {"t":765,"a":0.019,"b":0.019,"c":0.017,"d":0.015},
      {"t":766,"a":0.022,"b":0.022,"c":0.02,"d":0.018},
      {"t":899,"a":0.022,"b":0.022,"c":0.02,"d":0.018},
      {"t":900,"a":0.027,"b":0.027,"c":0.025,"d":0.022},
      {"t":932,"a":0.027,"b":0.027,"c":0.025,"d":0.022},
      {"t":933,"a":0.145,"b":0.14,"c":0.12,"d":0.118},
      {"t":940,"a":0.152,"b":0.15,"c":0.135,"d":0.12},
      {"t":950,"a":0.165,"b":0.158,"c":0.145,"d":0.125},
      {"t":955,"a":0.157,"b":0.154,"c":0.149,"d":0.127},
      {"t":965,"a":0.157,"b":0.154,"c":0.149,"d":0.131},
      {"t":1024,"a":0.157,"b":0.154,"c":0.149,"d":0.131},
      {"t":2.5,"a":-0.04,"b":-0.036,"c":-0.032,"d":-0.02},
      {"t":7.5,"a":0.05,"b":0.045,"c":0.04,"d":0.025},
      {"t":12.5,"a":-0.08,"b":-0.072,"c":-0.064,"d":-0.04},
      {"t":17.5,"a":0.04,"b":0.036,"c":0.032,"d":0.02},
      {"t":27.5,"a":0.06,"b":0.054,"c":0.048,"d":0.03},
      {"t":32.5,"a":-0.04,"b":-0.036,"c":-0.032,"d":-0.02},
      {"t":37.5,"a":0.03,"b":0.027,"c":0.024,"d":0.015},
      {"t":42.5,"a":-0.08,"b":-0.072,"c":-0.064,"d":-0.04},
      {"t":47.5,"a":0.05,"b":0.045,"c":0.04,"d":0.025},
      {"t":52.5,"a":-0.03,"b":-0.027,"c":-0.024,"d":-0.015},
      {"t":57.5,"a":0.06,"b":0.054,"c":0.048,"d":0.03},
      {"t":63,"a":-0.05,"b":-0.045,"c":-0.04,"d":-0.025},
      {"t":72.5,"a":-0.02,"b":-0.018,"c":-0.016,"d":-0.01},
      {"t":77.5,"a":0.04,"b":0.036,"c":0.032,"d":0.02},
      {"t":82.5,"a":-0.06,"b":-0.054,"c":-0.048,"d":-0.03},
      {"t":87.5,"a":0.05,"b":0.045,"c":0.04,"d":0.025},
      {"t":92.5,"a":-0.03,"b":-0.027,"c":-0.024,"d":-0.015},
      {"t":97.5,"a":0.06,"b":0.054,"c":0.048,"d":0.03},
      {"t":102.5,"a":-0.04,"b":-0.036,"c":-0.032,"d":-0.02},
      {"t":107.5,"a":0.07,"b":0.063,"c":0.056,"d":0.035},
      {"t":112.5,"a":-0.06,"b":-0.054,"c":-0.048,"d":-0.03},
      {"t":117.5,"a":0.04,"b":0.036,"c":0.032,"d":0.02},
      {"t":122.5,"a":-0.03,"b":-0.027,"c":-0.024,"d":-0.015},
      {"t":127.5,"a":0.06,"b":0.054,"c":0.048,"d":0.03},
      {"t":132.5,"a":-0.05,"b":-0.045,"c":-0.04,"d":-0.025},
      {"t":137.5,"a":0.05,"b":0.045,"c":0.04,"d":0.025},
      {"t":143,"a":-0.06,"b":-0.054,"c":-0.048,"d":-0.03},
      {"t":148,"a":0.03,"b":0.027,"c":0.024,"d":0.015},
      {"t":152.5,"a":0.04,"b":0.036,"c":0.032,"d":0.02},
      {"t":157.5,"a":-0.05,"b":-0.045,"c":-0.04,"d":-0.025},
      {"t":162.5,"a":0.03,"b":0.027,"c":0.024,"d":0.015},
      {"t":167.5,"a":-0.06,"b":-0.054,"c":-0.048,"d":-0.03},
      {"t":172.5,"a":0.05,"b":0.045,"c":0.04,"d":0.025},
      {"t":177.5,"a":-0.03,"b":-0.027,"c":-0.024,"d":-0.015},
      {"t":182.5,"a":0.06,"b":0.054,"c":0.048,"d":0.03},
      {"t":187,"a":-0.04,"b":-0.036,"c":-0.032,"d":-0.02},
      {"t":197.5,"a":0.05,"b":0.045,"c":0.04,"d":0.025},
      {"t":202.5,"a":-0.04,"b":-0.036,"c":-0.032,"d":-0.02},
      {"t":207.5,"a":0.03,"b":0.027,"c":0.024,"d":0.015},
      {"t":212.5,"a":-0.05,"b":-0.045,"c":-0.04,"d":-0.025},
      {"t":217.5,"a":0.06,"b":0.054,"c":0.048,"d":0.03},
      {"t":222.5,"a":-0.03,"b":-0.027,"c":-0.024,"d":-0.015},
      {"t":227.5,"a":0.05,"b":0.045,"c":0.04,"d":0.025},
      {"t":232.5,"a":-0.06,"b":-0.054,"c":-0.048,"d":-0.03},
      {"t":237.5,"a":0.04,"b":0.036,"c":0.032,"d":0.02},
      {"t":242.5,"a":-0.05,"b":-0.045,"c":-0.04,"d":-0.025},
      {"t":247.5,"a":0.06,"b":0.054,"c":0.048,"d":0.03},
      {"t":252.5,"a":-0.03,"b":-0.027,"c":-0.024,"d":-0.015},
      {"t":257.5,"a":0.05,"b":0.045,"c":0.04,"d":0.025},
      {"t":262.5,"a":-0.06,"b":-0.054,"c":-0.048,"d":-0.03},
      {"t":267.5,"a":0.04,"b":0.036,"c":0.032,"d":0.02},
      {"t":272.5,"a":-0.04,"b":-0.036,"c":-0.032,"d":-0.02},
      {"t":277.5,"a":0.06,"b":0.054,"c":0.048,"d":0.03},
      {"t":282,"a":-0.05,"b":-0.045,"c":-0.04,"d":-0.025},
      {"t":286,"a":-0.08,"b":-0.072,"c":-0.064,"d":-0.04},
      {"t":290,"a":-0.04,"b":-0.036,"c":-0.032,"d":-0.02},
      {"t":297.5,"a":0.04,"b":0.036,"c":0.032,"d":0.02},
      {"t":302.5,"a":-0.05,"b":-0.045,"c":-0.04,"d":-0.025},
      {"t":307.5,"a":0.06,"b":0.054,"c":0.048,"d":0.03},
      {"t":312.5,"a":-0.04,"b":-0.036,"c":-0.032,"d":-0.02},
      {"t":317.5,"a":0.05,"b":0.045,"c":0.04,"d":0.025},
      {"t":322.5,"a":-0.06,"b":-0.054,"c":-0.048,"d":-0.03},
      {"t":327.5,"a":0.07,"b":0.063,"c":0.056,"d":0.035},
      {"t":332,"a":-0.05,"b":-0.045,"c":-0.04,"d":-0.025},
      {"t":335.5,"a":0.08,"b":0.072,"c":0.064,"d":0.04},
      {"t":339.5,"a":-0.07,"b":-0.063,"c":-0.056,"d":-0.035},
      {"t":345,"a":0.06,"b":0.054,"c":0.048,"d":0.03},
      {"t":350,"a":-0.05,"b":-0.045,"c":-0.04,"d":-0.025},
      {"t":354,"a":0.09,"b":0.081,"c":0.072,"d":0.045},
      {"t":358,"a":-0.07,"b":-0.063,"c":-0.056,"d":-0.035},
      {"t":362.5,"a":0.06,"b":0.054,"c":0.048,"d":0.03},
      {"t":367,"a":-0.05,"b":-0.045,"c":-0.04,"d":-0.025},
      {"t":371,"a":0.07,"b":0.063,"c":0.056,"d":0.035},
      {"t":375,"a":-0.08,"b":-0.072,"c":-0.064,"d":-0.04},
      {"t":379,"a":0.05,"b":0.045,"c":0.04,"d":0.025},
      {"t":383,"a":-0.06,"b":-0.054,"c":-0.048,"d":-0.03},
      {"t":387,"a":0.07,"b":0.063,"c":0.056,"d":0.035},
      {"t":391,"a":-0.05,"b":-0.045,"c":-0.04,"d":-0.025},
      {"t":395,"a":0.06,"b":0.054,"c":0.048,"d":0.03},
      {"t":399,"a":-0.08,"b":-0.072,"c":-0.064,"d":-0.04},
      {"t":403,"a":0.05,"b":0.045,"c":0.04,"d":0.025},
      {"t":408,"a":-0.07,"b":-0.063,"c":-0.056,"d":-0.035},
      {"t":413,"a":0.06,"b":0.054,"c":0.048,"d":0.03},
      {"t":417.5,"a":-0.05,"b":-0.045,"c":-0.04,"d":-0.025},
      {"t":422.5,"a":0.06,"b":0.054,"c":0.048,"d":0.03},
      {"t":427.5,"a":-0.07,"b":-0.063,"c":-0.056,"d":-0.035},
      {"t":432.5,"a":0.05,"b":0.045,"c":0.04,"d":0.025},
      {"t":437.5,"a":-0.04,"b":-0.036,"c":-0.032,"d":-0.02},
      {"t":442.5,"a":0.08,"b":0.072,"c":0.064,"d":0.04},
      {"t":447.5,"a":-0.06,"b":-0.054,"c":-0.048,"d":-0.03},
      {"t":452.5,"a":0.05,"b":0.045,"c":0.04,"d":0.025},
      {"t":457.5,"a":-0.07,"b":-0.063,"c":-0.056,"d":-0.035},
      {"t":462.5,"a":0.06,"b":0.054,"c":0.048,"d":0.03},
      {"t":467,"a":0.05,"b":0.045,"c":0.04,"d":0.025},
      {"t":471,"a":-0.07,"b":-0.063,"c":-0.056,"d":-0.035},
      {"t":475.5,"a":0.06,"b":0.054,"c":0.048,"d":0.03},
      {"t":480.5,"a":-0.05,"b":-0.045,"c":-0.04,"d":-0.025},
      {"t":485.5,"a":0.07,"b":0.063,"c":0.056,"d":0.035},
      {"t":490.5,"a":-0.06,"b":-0.054,"c":-0.048,"d":-0.03},
      {"t":495,"a":0.05,"b":0.045,"c":0.04,"d":0.025},
      {"t":501,"a":-0.06,"b":-0.054,"c":-0.048,"d":-0.03},
      {"t":505.5,"a":0.07,"b":0.063,"c":0.056,"d":0.035},
      {"t":510.5,"a":-0.05,"b":-0.045,"c":-0.04,"d":-0.025},
      {"t":515.5,"a":0.06,"b":0.054,"c":0.048,"d":0.03},
      {"t":520.5,"a":-0.07,"b":-0.063,"c":-0.056,"d":-0.035},
      {"t":525.5,"a":0.05,"b":0.045,"c":0.04,"d":0.025},
      {"t":530.5,"a":-0.06,"b":-0.054,"c":-0.048,"d":-0.03},
      {"t":535.5,"a":0.04,"b":0.036,"c":0.032,"d":0.02},
      {"t":540.5,"a":-0.06,"b":-0.054,"c":-0.048,"d":-0.03},
      {"t":545.5,"a":0.07,"b":0.063,"c":0.056,"d":0.035},
      {"t":550.5,"a":-0.05,"b":-0.045,"c":-0.04,"d":-0.025},
      {"t":555.5,"a":0.06,"b":0.054,"c":0.048,"d":0.03},
      {"t":560.5,"a":-0.07,"b":-0.063,"c":-0.056,"d":-0.035},
      {"t":565.5,"a":0.05,"b":0.045,"c":0.04,"d":0.025},
      {"t":570.5,"a":-0.06,"b":-0.054,"c":-0.048,"d":-0.03},
      {"t":576,"a":0.06,"b":0.054,"c":0.048,"d":0.03},
      {"t":581,"a":-0.08,"b":-0.072,"c":-0.064,"d":-0.04},
      {"t":585.5,"a":0.05,"b":0.045,"c":0.04,"d":0.025},
      {"t":590.5,"a":-0.07,"b":-0.063,"c":-0.056,"d":-0.035},
      {"t":595.5,"a":0.06,"b":0.054,"c":0.048,"d":0.03},
      {"t":600.5,"a":-0.08,"b":-0.072,"c":-0.064,"d":-0.04},
      {"t":605.5,"a":0.05,"b":0.045,"c":0.04,"d":0.025},
      {"t":610.5,"a":-0.07,"b":-0.063,"c":-0.056,"d":-0.035},
      {"t":615.5,"a":0.06,"b":0.054,"c":0.048,"d":0.03},
      {"t":620.5,"a":-0.08,"b":-0.072,"c":-0.064,"d":-0.04},
      {"t":625.5,"a":0.05,"b":0.045,"c":0.04,"d":0.025},
      {"t":630.5,"a":-0.07,"b":-0.063,"c":-0.056,"d":-0.035},
      {"t":635,"a":0.04,"b":0.036,"c":0.032,"d":0.02},
      {"t":639,"a":-0.06,"b":-0.054,"c":-0.048,"d":-0.03},
      {"t":643,"a":0.06,"b":0.054,"c":0.048,"d":0.03},
      {"t":648.5,"a":0.16,"b":0.14,"c":0.13,"d":0.1},
      {"t":651.5,"a":0.08,"b":0.072,"c":0.064,"d":0.04},
      {"t":654.5,"a":0.2,"b":0.18,"c":0.16,"d":0.12},
      {"t":657.5,"a":0.12,"b":0.11,"c":0.1,"d":0.09},
      {"t":660.5,"a":0.22,"b":0.2,"c":0.18,"d":0.12},
      {"t":663.5,"a":0.06,"b":0.054,"c":0.048,"d":0.05},
      {"t":666.5,"a":0.1,"b":0.09,"c":0.08,"d":0.06},
      {"t":670,"a":-0.06,"b":-0.054,"c":-0.048,"d":-0.03},
      {"t":673.5,"a":0.05,"b":0.045,"c":0.04,"d":0.025},
      {"t":676.5,"a":-0.04,"b":-0.036,"c":-0.032,"d":-0.02},
      {"t":680,"a":0.07,"b":0.063,"c":0.056,"d":0.035},
      {"t":684,"a":-0.06,"b":-0.054,"c":-0.048,"d":-0.03},
      {"t":688,"a":0.05,"b":0.045,"c":0.04,"d":0.025},
      {"t":692,"a":-0.08,"b":-0.072,"c":-0.064,"d":-0.04},
      {"t":696,"a":0.06,"b":0.054,"c":0.048,"d":0.03}
    ]
  },
  "spacing": 918,
  "bounds": "flush",
  "resolve": {"scale": {"color": "independent"}, "legend": {"color": "independent"}},
  "hconcat": [
    {
      "width": 971,
      "height": 812,
      "data": {"name": "east"},
      "transform": [{"fold": ["a", "b", "c", "d"], "as": ["s", "v"]}],
      "mark": {"type": "line", "strokeWidth": 2.8, "clip": true},
      "encoding": {
        "x": {
          "field": "t", "type": "quantitative",
          "scale": {"domain": [0, 1024], "nice": false},
          "axis": {
            "title": ["时间 (s)", "(a) 东向速度误差"],
            "titleLineHeight": 125,
            "values": [0, 100, 200, 300, 400, 500, 600, 700, 800, 900, 1000],
            "labelExpr": "datum.value % 200 == 0 ? (datum.value == 1000 ? '1 000' : datum.label) : ''",
            "tickOpacity": {"condition": {"test": "datum.value % 200 != 0", "value": 0}, "value": 1}
          }
        },
        "y": {
          "field": "v", "type": "quantitative",
          "scale": {"domain": [-1, 1.25], "nice": false, "zero": false},
          "axis": {
            "title": "东向速度误差 (m/s)",
            "titlePadding": 40,
            "values": [-1, -0.75, -0.5, -0.25, 0, 0.25, 0.5, 0.75, 1, 1.25],
            "labelExpr": "abs(datum.value * 2 - round(datum.value * 2)) < 0.001 ? (abs(datum.value) < 0.001 ? '0' : format(datum.value, '.1f')) : ''",
            "tickOpacity": {"condition": {"test": "abs(datum.value * 2 - round(datum.value * 2)) > 0.001", "value": 0}, "value": 1}
          }
        },
        "color": {
          "field": "s", "type": "nominal",
          "scale": {"domain": ["a", "b", "c", "d"], "range": ["#141a24", "#1c8c8c", "#f5a01a", "#f2506a"]},
          "legend": {
            "title": null,
            "orient": "none",
            "legendX": 1145,
            "legendY": 843,
            "padding": 0,
            "symbolType": "M-2,0H2",
            "symbolSize": 2352,
            "symbolStrokeWidth": 6,
            "labelFont": "Liberation Serif",
            "labelFontSize": 68,
            "labelColor": "black",
            "labelLimit": 0,
            "labelOffset": 28,
            "rowPadding": 9,
            "labelExpr": "datum.label == 'a' ? 'IMM-SRCKF' : datum.label == 'b' ? 'IMM-UKF' : datum.label == 'c' ? 'IMM-MKF' : 'FAIMM-MKF'"
          }
        }
      }
    },
    {
      "width": 970,
      "height": 812,
      "data": {"name": "north"},
      "transform": [{"fold": ["a", "b", "c", "d"], "as": ["s", "v"]}],
      "mark": {"type": "line", "strokeWidth": 2.8, "clip": true},
      "encoding": {
        "x": {
          "field": "t", "type": "quantitative",
          "scale": {"domain": [0, 1024], "nice": false},
          "axis": {
            "title": ["时间 (s)", "(b) 北向速度误差"],
            "titleLineHeight": 125,
            "values": [0, 100, 200, 300, 400, 500, 600, 700, 800, 900, 1000],
            "labelExpr": "datum.value % 200 == 0 ? (datum.value == 1000 ? '1 000' : datum.label) : ''",
            "tickOpacity": {"condition": {"test": "datum.value % 200 != 0", "value": 0}, "value": 1}
          }
        },
        "y": {
          "field": "v", "type": "quantitative",
          "scale": {"domain": [-0.3, 0.4], "nice": false, "zero": false},
          "axis": {
            "title": "北向速度误差 (m/s)",
            "titlePadding": 31,
            "values": [-0.3, -0.25, -0.2, -0.15, -0.1, -0.05, 0, 0.05, 0.1, 0.15, 0.2, 0.25, 0.3, 0.35, 0.4],
            "labelExpr": "abs(datum.value * 10 - round(datum.value * 10)) < 0.001 ? (abs(datum.value) < 0.001 ? '0' : format(datum.value, '.1f')) : ''",
            "tickOpacity": {"condition": {"test": "abs(datum.value * 10 - round(datum.value * 10)) > 0.001", "value": 0}, "value": 1}
          }
        },
        "color": {
          "field": "s", "type": "nominal",
          "scale": {"domain": ["a", "b", "c", "d"], "range": ["#141a24", "#1c8c8c", "#f5a01a", "#f2506a"]},
          "legend": null
        }
      }
    }
  ]
}
